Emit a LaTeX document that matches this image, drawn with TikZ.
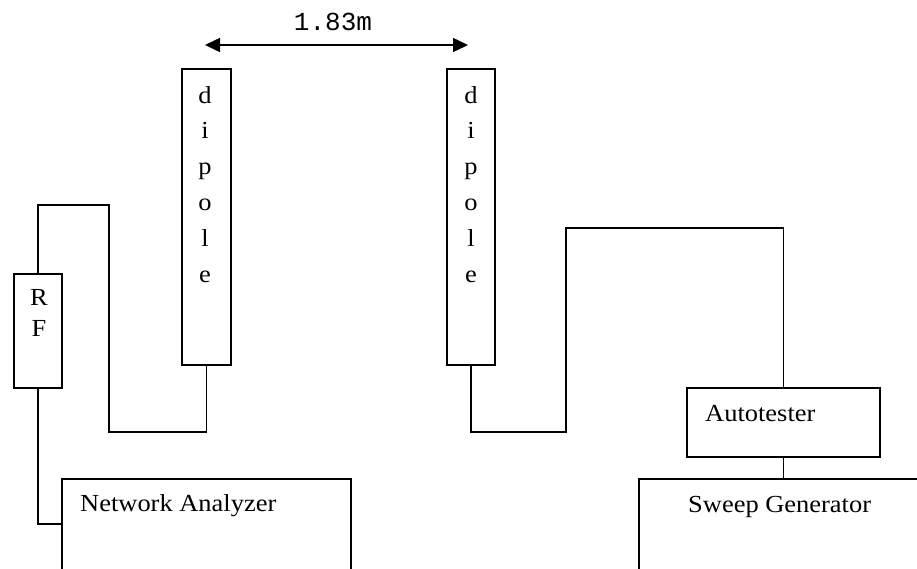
\documentclass[tikz,border=0pt]{standalone}
\usepackage{fontspec}
\setmainfont{Liberation Serif}
\newfontfamily\lblfont[FakeStretch=1.08]{Liberation Serif}
\newfontfamily\dimfont{Liberation Mono}
\usetikzlibrary{arrows.meta}
\begin{document}
\begin{tikzpicture}[x=1pt,y=-1pt,
  wire/.style={line width=1.5pt, line join=miter},
  box/.style={draw, line width=1.5pt, rectangle, inner sep=0pt, anchor=north west},
  txt/.style={inner sep=0pt, anchor=base west, font=\lblfont\fontsize{24.5}{24.5}\selectfont}]
  \clip (0,0) rectangle (917,568);
  \fill[white] (0,0) rectangle (917,568);

  % spacing between the antennas
  \coordinate (spanL) at (205,45);
  \coordinate (spanR) at (468,45);
  \draw[line width=1.5pt, {Triangle[length=15pt,width=14pt]}-{Triangle[length=15pt,width=14pt]}] (spanL) -- (spanR);
  \node[inner sep=0pt, font=\dimfont\fontsize{26}{26}\selectfont] (span) at (333,22) {1.83m};

  % antennas
  \node[box, minimum width=49pt, minimum height=296pt] (dipL) at (181,68) {};
  \node[box, minimum width=48pt, minimum height=296pt] (dipR) at (446,68) {};
  \foreach \d/\xx in {dipL/205, dipR/471}{
    \foreach \ch [count=\i from 0] in {d,i,p,o,l,e}{
      \node[inner sep=0pt, anchor=base, font=\lblfont\fontsize{24.5}{24.5}\selectfont] at (\xx,103+35.8*\i) {\ch};
    }
  }

  % RF amplifier
  \node[box, minimum width=48pt, minimum height=114pt] (rf) at (13,273) {};
  \node[inner sep=0pt, anchor=base, font=\lblfont\fontsize{24.5}{24.5}\selectfont] (rfR) at (39,305) {R};
  \node[inner sep=0pt, anchor=base, font=\lblfont\fontsize{24.5}{24.5}\selectfont] (rfF) at (39,336) {F};

  % instruments
  \node[box, minimum width=289pt, minimum height=120pt] (na) at (61,478) {};
  \node[txt] (naText) at (80,511) {Network Analyzer};
  \node[box, minimum width=193pt, minimum height=69pt] (at) at (686,387) {};
  \node[txt] (atText) at (705,421) {Autotester};
  \node[box, minimum width=300pt, minimum height=120pt] (sg) at (638,478) {};
  \node[txt] (sgText) at (688,512) {Sweep Generator};

  % cables
  \draw[wire] (dipL.south) |- (109,432) -- (109,205) -| (rf.north);
  \draw[wire] (rf.south) |- (na.west |- 0,524);
  \draw[wire] (dipR.south) |- (566,432) -- (566,228) -| (at.north);
  \draw[wire] (at.south) -- (at.south |- sg.north);
\end{tikzpicture}
\end{document}
